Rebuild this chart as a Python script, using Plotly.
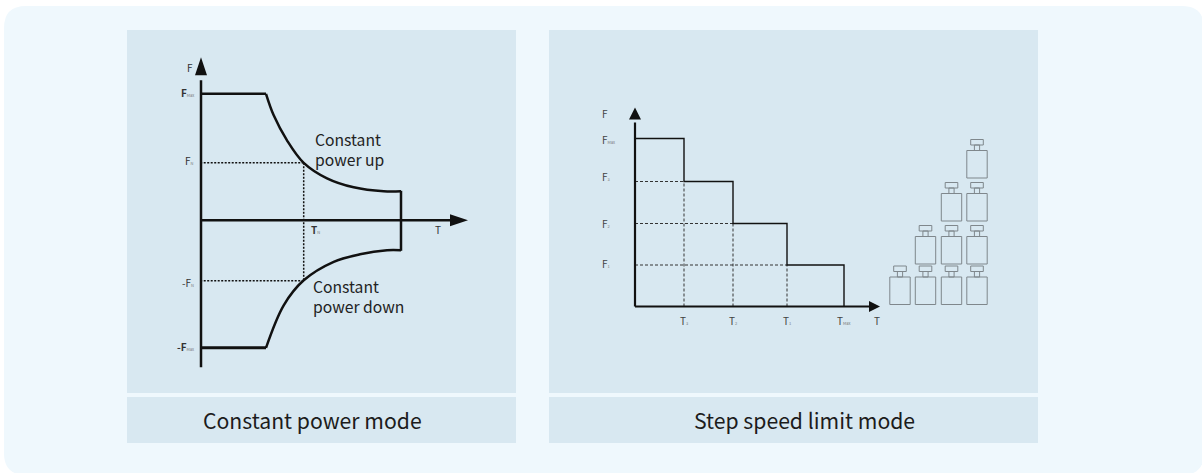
import plotly.graph_objects as go

W, H = 1202, 473
INK = "#111111"; GREY = "#7f878c"; TXT = "#333333"
PAGE = "#eff8fd"; PANEL = "#d8e8f1"

# Left diagram (T, F units)
left_flat_T = [0, 65]
left_flat_up = [126.5, 126.5]
left_flat_down = [-127.5, -127.5]
left_curve_T = [65, 72.7, 86, 102.7, 126, 152.7, 182.7, 200]
left_curve_up = [126.5, 105, 80, 57.5, 42, 33, 29, 29]
left_curve_down_T = [200, 186, 159, 132.7, 102.7, 82.7, 65]
left_curve_down = [-30, -30, -34, -41.5, -60, -85, -127.5]
left_wall_T = [200, 200]
left_wall_F = [29.5, -30.5]
left_rated_T = 102.7
left_rated_up = 57.5
left_rated_down = -60.5
left_T_end = 252
left_F_top = 150
left_F_bottom = -147

# Right diagram (T, F units)
step_T = [0, 49, 49, 98, 98, 152, 152, 209, 209]
step_F = [168, 168, 125, 125, 83, 83, 41.5, 41.5, 0]
guide_T = [49, 98, 152]
guide_F = [125, 83, 41.5]
right_T_end = 236
right_F_top = 188

# Weights stack: number of bottles per column, bottom to top
bottle_center_T = [265, 290.5, 316.5, 342]
bottle_base_F = [2, 42.5, 85.5, 128.5]
bottle_count = [1, 2, 3, 4]

caption_left = "Constant power mode"
caption_right = "Step speed limit mode"
note_up = "Constant<br>power up"
note_down = "Constant<br>power down"

def tiny(main, sub):
    return f'{main}<span style="font-size:4px;color:#777">{sub}</span>'

fig = go.Figure()

def line(x, y, width, color=INK, dash="solid", ax="x", ay="y", shape="linear"):
    fig.add_trace(go.Scatter(x=x, y=y, mode="lines", xaxis=ax, yaxis=ay, hoverinfo="skip",
                             line=dict(color=color, width=width, dash=dash, shape=shape, smoothing=1)))

def arrow(x, y, color=INK, ax="x", ay="y"):
    fig.add_trace(go.Scatter(x=x, y=y, mode="lines", fill="toself", fillcolor=color, xaxis=ax, yaxis=ay,
                             hoverinfo="skip", line=dict(color=color, width=0)))

# Left chart
dot = "2px,1.5px"
line([left_rated_T, 0], [left_rated_up, left_rated_up], 1.5, INK, dot)
line([left_rated_T, left_rated_T], [left_rated_up, left_rated_down], 1.5, INK, dot)
line([left_rated_T, 0], [left_rated_down, left_rated_down], 1.5, INK, dot)
line([0, 0], [left_F_bottom, left_F_top - 10], 2.5)
line([0, left_T_end - 3], [0, 0], 2.5)
line(left_flat_T, left_flat_up, 2.5)
line(left_flat_T, left_flat_down, 3)
line(left_curve_T, left_curve_up, 2.5, shape="spline")
line(left_curve_down_T, left_curve_down, 2.5, shape="spline")
line(left_wall_T, left_wall_F, 2.5)
arrow([-6, 0, 6, -6], [left_F_top - 5, left_F_top + 13, left_F_top - 5, left_F_top - 5])
arrow([left_T_end - 3, left_T_end + 15, left_T_end - 3, left_T_end - 3], [6, 0, -6, 6])

# Right chart
for t, f in zip(guide_T, guide_F):
    line([t, t], [0, f], 1, "#333333", "3px,2px", "x2", "y2")
    line([0, t], [f, f], 1, "#333333", "3px,2px", "x2", "y2")
line([0, 0], [0, right_F_top - 4], 2.2, INK, "solid", "x2", "y2")
line([0, right_T_end - 2], [0, 0], 2.2, INK, "solid", "x2", "y2")
line(step_T, step_F, 1.4, INK, "solid", "x2", "y2")
arrow([-6, 0, 6, -6], [right_F_top - 1, right_F_top + 11, right_F_top - 1, right_F_top - 1], INK, "x2", "y2")
arrow([right_T_end - 2, right_T_end + 9, right_T_end - 2, right_T_end - 2], [5.5, 0, -5.5, 5.5], INK, "x2", "y2")

bx, by = [], []
for cx, n in zip(bottle_center_T, bottle_count):
    for b in bottle_base_F[:n]:
        for (hw, lo, hi) in [(10.2, b, b + 27.5), (2.6, b + 27.5, b + 33), (6.3, b + 33, b + 38.5)]:
            bx += [cx - hw, cx + hw, cx + hw, cx - hw, cx - hw, None]
            by += [lo, lo, hi, hi, lo, None]
line(bx, by, 1, GREY, "solid", "x2", "y2")

FONT = "Noto Sans CJK SC"
def label(x, y, text, size=8, color=TXT, ax="x", ay="y", anchor="center"):
    fig.add_annotation(x=x, y=y, xref=ax, yref=ay, text=text, showarrow=False, xanchor=anchor, yanchor="middle",
                       align="left" if anchor == "left" else "center",
                       font=dict(family=FONT, size=size, color=color), borderpad=0, borderwidth=0)

d = "#333333"
label(-8, 153, "F", 10, d, anchor="right")
label(-7, 128, tiny("<b>F</b>", "Max"), 10, d, anchor="right")
label(-7, 60, tiny("F", "N"), 10, d, anchor="right")
label(-7, -62, tiny("-F", "N"), 10, d, anchor="right")
label(-7, -126, tiny("<b>-F</b>", "Max"), 10, d, anchor="right")
label(114, -9, tiny("<b>T</b>", "N"), 10, d)
label(237, -9, "T", 10, d)
label(114, 70.5, note_up, 15.7, "#222222", anchor="left")
label(112, -76.5, note_down, 15.7, "#222222", anchor="left")

g = "#444444"
label(-33, 193, "F", 10, g, "x2", "y2", anchor="left")
label(-33, 167, tiny("F", "Max"), 10, g, "x2", "y2", anchor="left")
label(-33, 130, tiny("F", "3"), 10, g, "x2", "y2", anchor="left")
label(-33, 83, tiny("F", "2"), 10, g, "x2", "y2", anchor="left")
label(-33, 43, tiny("F", "1"), 10, g, "x2", "y2", anchor="left")
label(49, -14, tiny("T", "3"), 10, g, "x2", "y2")
label(98, -14, tiny("T", "2"), 10, g, "x2", "y2")
label(152, -14, tiny("T", "1"), 10, g, "x2", "y2")
label(209, -14, tiny("T", "Max"), 10, g, "x2", "y2")
label(242, -14, "T", 10, g, "x2", "y2")

def px_x(v): return v / W
def px_y(v): return 1 - v / H

def rrect(x0, y0, x1, y1, r):
    X = px_x; Y = px_y
    return (f"M {X(x0+r)} {Y(y0)} L {X(x1-r)} {Y(y0)} Q {X(x1)} {Y(y0)} {X(x1)} {Y(y0+r)} "
            f"L {X(x1)} {Y(y1-r)} Q {X(x1)} {Y(y1)} {X(x1-r)} {Y(y1)} L {X(x0+r)} {Y(y1)} "
            f"Q {X(x0)} {Y(y1)} {X(x0)} {Y(y1-r)} L {X(x0)} {Y(y0+r)} Q {X(x0)} {Y(y0)} {X(x0+r)} {Y(y0)} Z")

shapes = [dict(type="path", xref="paper", yref="paper", path=rrect(4, 6, 1204, 475, 22),
               fillcolor=PAGE, line=dict(width=0), layer="below")]
for (x0, y0, x1, y1) in [(127, 30, 516, 393), (127, 397, 516, 443), (549, 30, 1038, 393), (549, 397, 1038, 443)]:
    shapes.append(dict(type="rect", xref="paper", yref="paper", x0=px_x(x0), x1=px_x(x1), y0=px_y(y1), y1=px_y(y0),
                       fillcolor=PANEL, line=dict(width=0), layer="below"))

for cx, txt in [(312.5, caption_left), (804, caption_right)]:
    fig.add_annotation(x=px_x(cx), y=px_y(419), xref="paper", yref="paper", text=txt, showarrow=False,
                       xanchor="center", yanchor="middle",
                       font=dict(family=FONT, size=21.2, color="#1c1c1c"))

hidden = dict(visible=False, fixedrange=True)
fig.update_layout(
    width=W, height=H, margin=dict(l=0, r=0, t=0, b=0), showlegend=False,
    paper_bgcolor="white", plot_bgcolor="rgba(0,0,0,0)", shapes=shapes,
    xaxis=dict(domain=[px_x(127), px_x(516)], range=[-74, 315], anchor="y", **hidden),
    yaxis=dict(domain=[px_y(393), px_y(30)], range=[-172.7, 190.3], anchor="x", **hidden),
    xaxis2=dict(domain=[px_x(549), px_x(1038)], range=[-86, 403], anchor="y2", **hidden),
    yaxis2=dict(domain=[px_y(393), px_y(30)], range=[-86.5, 276.5], anchor="x2", **hidden),
)
fig.write_html("out.html", post_script="document.body.style.margin='0';", config=dict(displayModeBar=False))
